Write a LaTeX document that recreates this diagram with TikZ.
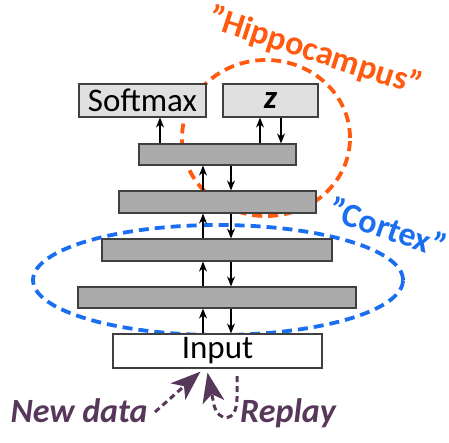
\documentclass[tikz,border=0pt]{standalone}
\usepackage{fontspec}
\setmainfont{Carlito}
\usepackage{xcolor}
\usepackage{tikz}
\usetikzlibrary{positioning,arrows.meta}

\definecolor{hippo}{HTML}{FF5A0F}
\definecolor{cortex}{HTML}{1A6FF0}
\definecolor{plum}{HTML}{57385A}
\definecolor{edgegray}{HTML}{404040}

\begin{document}
\begin{tikzpicture}[x=1pt, y=-1pt,
	box/.style={draw=edgegray, line width=1.2pt, inner sep=0pt, font=\fontsize{33}{38}\selectfont},
	layer/.style={box, fill=black!33},
	arr/.style={-{Stealth[length=10pt, width=8pt]}, line width=1.4pt},
	data/.style={plum, line width=3pt, dash pattern=on 6pt off 4pt, -{Stealth[length=30pt, width=22pt, inset=8pt]}},
	tag/.style={font=\fontsize{34}{40}\selectfont\bfseries},
	note/.style={text=plum, font=\fontsize{34}{40}\selectfont\bfseries\itshape, anchor=base}]
		\useasboundingbox (0,0) rectangle (449,442);

		% the two memories
		\draw[hippo, line width=3.8pt, dash pattern=on 10pt off 6pt] (266,138) ellipse [x radius=84pt, y radius=78pt];
		\draw[cortex, line width=3.8pt, dash pattern=on 10pt off 6pt] (218,280) ellipse [x radius=185pt, y radius=55pt];

		\node[box, fill=black!12, minimum width=127pt, minimum height=33pt] (softmax) at (142.5,100.5) {Softmax};
		\node[box, fill=black!12, minimum width=95pt, minimum height=33pt] (z) at (270.5,100.5) {\textbf{\textit{z}}};
		\node[layer, minimum width=157pt, minimum height=21pt] (l1) at (217.5,154.5) {};
		\node[layer, minimum width=197pt, minimum height=22pt] (l2) at (217.5,202) {};
		\node[layer, minimum width=230pt, minimum height=22pt] (l3) at (217,250) {};
		\node[layer, minimum width=278pt, minimum height=21pt] (l4) at (217,297.5) {};
		\node[box, fill=white, minimum width=209pt, minimum height=34pt] (inp) at (217.5,351) {Input};

		\node[tag, text=hippo, rotate=-18] (hiplabel) at (315,52) {"Hippocampus"};
		\node[tag, text=cortex, rotate=-19] (cortexlabel) at (388,227) {"Cortex"};
		\node[note] (newdata) at (79,422) {New data};
		\node[note] (replay) at (288,422) {Replay};

		\coordinate (upx) at (203,0);
		\coordinate (dnx) at (231,0);
		\coordinate (smx) at (160,0);
		\coordinate (zup) at (260,0);
		\coordinate (zdn) at (281,0);

		\draw[arr] (l1.north -| smx) -- (softmax.south -| smx);
		\draw[arr] (l1.north -| zup) -- (z.south -| zup);
		\draw[arr] (z.south -| zdn) -- (l1.north -| zdn);
		\foreach \lo/\hi in {l2/l1, l3/l2, l4/l3, inp/l4} {
			\draw[arr] (\lo.north -| upx) -- (\hi.south -| upx);
			\draw[arr] (\hi.south -| dnx) -- (\lo.north -| dnx);
		}

		% data coming into the input
		\coordinate (ndtail) at (155,412);
		\coordinate (rptop) at (237,376);
		\draw[data] (ndtail) -- ([xshift=-17pt, yshift=-3pt]inp.south);
		\draw[data] (rptop) -- (237,398) .. controls (237,424) and (218,422) .. (214,405) -- ([xshift=-10pt, yshift=-4pt]inp.south);
	\end{tikzpicture}
\end{document}
